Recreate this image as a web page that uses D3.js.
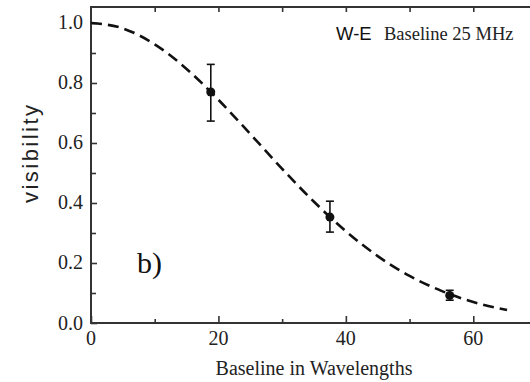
<!DOCTYPE html>
<html lang="en">
<head>
    <meta charset="UTF-8">
    <title>Visibility vs baseline</title>
    <script src="https://d3js.org/d3.v7.min.js"></script>
    <style>
        body {
            margin: 0;
            padding: 0;
            background: #fff;
        }
        svg {
            display: block;
        }
        .tick-label {
            font-family: "Liberation Serif", "Times New Roman", serif;
            font-size: 20px;
            fill: #222;
        }
    </style>
</head>
<body>
    <div id="chart"></div>

    <script>
        const width = 530;
        const height = 382;

        // measured points (baseline, visibility, error low, error high)
        const pointX = [18.8, 37.5, 56.3];
        const pointY = [0.77, 0.353, 0.092];
        const errLow = [0.673, 0.303, 0.076];
        const errHigh = [0.862, 0.406, 0.109];

        // dashed model curve
        const curveX = [0, 5, 10, 15, 20, 25, 30, 35, 40, 45, 50, 55, 60, 65.3];
        const curveY = [1.0, 0.982, 0.929, 0.847, 0.744, 0.630, 0.514, 0.404, 0.306, 0.223, 0.157, 0.107, 0.070, 0.043];

        const xTicks = [0, 20, 40, 60];
        const yTicks = [0.0, 0.2, 0.4, 0.6, 0.8, 1.0];

        const plotLeft = 91, plotTop = 7, plotBottom = 323;

        const svg = d3.select("#chart")
            .append("svg")
            .attr("width", width)
            .attr("height", height);

        const x = d3.scaleLinear().domain([0, 70]).range([plotLeft, plotLeft + 446]);
        const y = d3.scaleLinear().domain([0, 1.0533]).range([plotBottom, plotTop]);

        // inner ticks, drawn through the axis generators
        svg.append("g")
            .attr("transform", `translate(0,${plotBottom})`)
            .call(d3.axisTop(x).tickValues(d3.range(0, 71, 20)).tickSize(7).tickFormat(""))
            .call(g => g.select(".domain").remove());
        svg.append("g")
            .attr("transform", `translate(0,${plotBottom})`)
            .call(d3.axisTop(x).tickValues([10, 30, 50]).tickSize(4).tickFormat(""))
            .call(g => g.select(".domain").remove());
        svg.append("g")
            .attr("transform", `translate(0,${plotTop})`)
            .call(d3.axisBottom(x).tickValues(d3.range(10, 71, 10)).tickSize(5).tickFormat(""))
            .call(g => g.select(".domain").remove());
        svg.append("g")
            .attr("transform", `translate(${plotLeft},0)`)
            .call(d3.axisRight(y).tickValues(yTicks).tickSize(6).tickFormat(""))
            .call(g => g.select(".domain").remove());
        svg.append("g")
            .attr("transform", `translate(${plotLeft},0)`)
            .call(d3.axisRight(y).tickValues([0.1, 0.3, 0.5, 0.7, 0.9]).tickSize(5).tickFormat(""))
            .call(g => g.select(".domain").remove());
        svg.selectAll(".tick line").attr("stroke", "#333").attr("stroke-width", 1.6);

        // frame (right side is cut off in the original)
        svg.append("path")
            .attr("d", `M${width},${plotTop}H${plotLeft}V${plotBottom}H${width}`)
            .attr("fill", "none")
            .attr("stroke", "#333")
            .attr("stroke-width", 2);

        // tick labels
        svg.selectAll(".ylab")
            .data(yTicks)
            .enter().append("text")
            .attr("class", "tick-label")
            .attr("x", plotLeft - 8)
            .attr("y", d => y(d) + 6.5)
            .attr("text-anchor", "end")
            .text(d => d.toFixed(1));

        svg.selectAll(".xlab")
            .data(xTicks)
            .enter().append("text")
            .attr("class", "tick-label")
            .attr("x", d => x(d))
            .attr("y", plotBottom + 22)
            .attr("text-anchor", "middle")
            .text(d => d);

        // axis titles
        svg.append("text")
            .attr("x", 314)
            .attr("y", 375)
            .attr("text-anchor", "middle")
            .style("font-family", "'Liberation Serif', serif")
            .style("font-size", "20px")
            .style("fill", "#222")
            .text("Baseline in Wavelengths");

        svg.append("text")
            .attr("transform", "translate(38,154) rotate(-90)")
            .attr("text-anchor", "middle")
            .attr("textLength", 98)
            .attr("lengthAdjust", "spacing")
            .style("font-family", "'Liberation Sans', Arial, sans-serif")
            .style("font-size", "22px")
            .style("fill", "#222")
            .text("visibility");

        // annotations
        svg.append("text")
            .attr("x", 336)
            .attr("y", 40)
            .style("font-family", "'Liberation Sans', Arial, sans-serif")
            .style("font-size", "18.5px")
            .style("fill", "#111")
            .text("W-E");
        svg.append("text")
            .attr("x", 384)
            .attr("y", 40)
            .style("font-family", "'Liberation Serif', serif")
            .style("font-size", "18.5px")
            .style("fill", "#222")
            .text("Baseline 25 MHz");
        svg.append("text")
            .attr("x", 137)
            .attr("y", 273)
            .style("font-family", "'Liberation Serif', serif")
            .style("font-size", "30px")
            .style("fill", "#111")
            .text("b)");

        // dashed curve
        const line = d3.line()
            .x((d, i) => x(curveX[i]))
            .y(d => y(d))
            .curve(d3.curveMonotoneX);

        svg.append("path")
            .datum(curveY)
            .attr("d", line)
            .attr("fill", "none")
            .attr("stroke", "#111")
            .attr("stroke-width", 2.6)
            .attr("stroke-dasharray", "11,6");

        // error bars and points
        const pts = svg.append("g").selectAll("g")
            .data(pointX)
            .enter().append("g");

        pts.append("line")
            .attr("x1", d => x(d)).attr("x2", d => x(d))
            .attr("y1", (d, i) => y(errLow[i]))
            .attr("y2", (d, i) => y(errHigh[i]))
            .attr("stroke", "#111").attr("stroke-width", 1.6);
        pts.append("line")
            .attr("x1", d => x(d) - 4).attr("x2", d => x(d) + 4)
            .attr("y1", (d, i) => y(errLow[i])).attr("y2", (d, i) => y(errLow[i]))
            .attr("stroke", "#111").attr("stroke-width", 1.6);
        pts.append("line")
            .attr("x1", d => x(d) - 4).attr("x2", d => x(d) + 4)
            .attr("y1", (d, i) => y(errHigh[i])).attr("y2", (d, i) => y(errHigh[i]))
            .attr("stroke", "#111").attr("stroke-width", 1.6);
        pts.append("circle")
            .attr("cx", d => x(d))
            .attr("cy", (d, i) => y(pointY[i]))
            .attr("r", 4.5)
            .attr("fill", "#111");
    </script>
</body>
</html>
